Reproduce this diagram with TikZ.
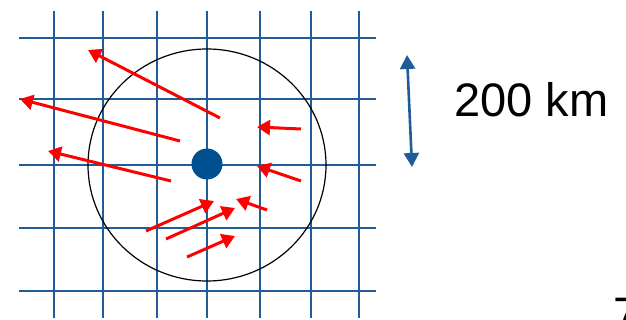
\documentclass[tikz,border=0pt]{standalone}
\usepackage{fontspec}
\setmainfont{Liberation Sans}
\usetikzlibrary{arrows.meta,positioning}
\definecolor{GridBlue}{HTML}{1F5C99}
\definecolor{DotBlue}{HTML}{00508F}
\definecolor{WindRed}{HTML}{FF0000}
\tikzset{
  gridline/.style={draw=GridBlue,line width=2pt},
  windarrow/.style={-{Triangle[length=13pt,width=15pt]},line width=3pt,draw=WindRed},
  scalearrow/.style={{Triangle[length=14pt,width=15pt]}-{Triangle[length=14pt,width=15pt]},line width=2.6pt,draw=GridBlue},
  bigtext/.style={font=\fontsize{47}{56}\selectfont,inner sep=0pt}
}
\begin{document}
\begin{tikzpicture}[x=1pt,y=-1pt]
  \useasboundingbox (0,0) rectangle (626,320);
  % grid
  \foreach \gx in {54,103,157,207,260,311,359}
    \draw[gridline] (\gx,11) -- (\gx,318);
  \foreach \gy in {38,99,165,228,291}
    \draw[gridline] (19,\gy) -- (376,\gy);
  % station and radius of influence
  \draw[line width=1.2pt] (207,165) ellipse[x radius=119,y radius=116];
  \node[circle,fill=DotBlue,minimum size=31pt,inner sep=0pt] (stn) at (207,164) {};
  % observed winds
  \foreach \tx/\ty/\hx/\hy in {220/118/88/50, 180/141/20/99, 171/181/48/151,
                               301/129/257/127, 301/181/257/166, 267/210/236/199,
                               146/231/214/201, 166/239/235/208, 187/257/235/236}
    \draw[windarrow] (\tx,\ty) -- (\hx,\hy);
  % scale
  \coordinate (top) at (407,55);
  \coordinate (bot) at (412,167);
  \draw[scalearrow] (top) -- (bot);
  \node[bigtext,anchor=base west] (dist) at (454,117) {200 km};
  \node[bigtext,anchor=base west] (pg) at (613,330) {7};
\end{tikzpicture}
\end{document}
